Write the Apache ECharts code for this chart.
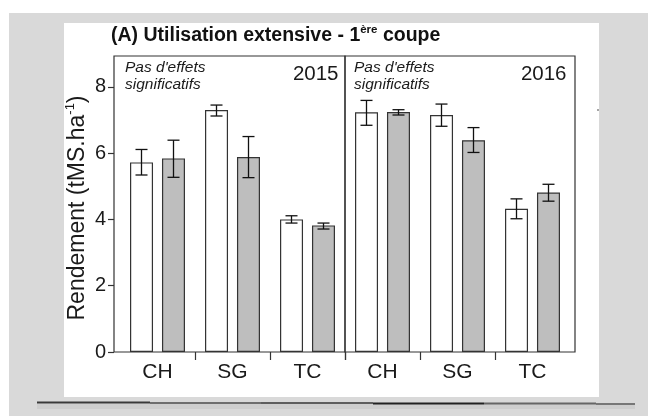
<!DOCTYPE html>
<html><head><meta charset="utf-8">
<script src="https://cdn.jsdelivr.net/npm/echarts@6/dist/echarts.min.js"></script>
<style>html,body{margin:0;padding:0;background:#fff}#c{width:648px;height:416px}</style>
</head><body><div id="c"></div>
<script>
// ---- data ----
const categories = ['CH', 'SG', 'TC'];
const yTicks = [0, 2, 4, 6, 8];
const yMax = 8.93;
// 2015
const white2015 = [5.72, 7.30, 4.00];
const white2015Low = [5.34, 7.12, 3.89];
const white2015High = [6.11, 7.45, 4.11];
const grey2015 = [5.84, 5.88, 3.82];
const grey2015Low = [5.27, 5.26, 3.71];
const grey2015High = [6.39, 6.50, 3.89];
// 2016
const white2016 = [7.23, 7.15, 4.32];
const white2016Low = [6.84, 6.81, 4.02];
const white2016High = [7.59, 7.48, 4.62];
const grey2016 = [7.24, 6.39, 4.81];
const grey2016Low = [7.15, 6.02, 4.55];
const grey2016High = [7.31, 6.77, 5.06];

const F = '"Liberation Sans", Arial, Helvetica, sans-serif';
const INK = '#1a1a1a';
const BORDER = '#333';

const chart = echarts.init(document.getElementById('c'), null, {renderer: 'canvas'});

function barSeries(axisIdx, values, color) {
  return {
    type: 'bar', xAxisIndex: axisIdx, yAxisIndex: axisIdx,
    data: categories.map((c, i) => [c, values[i]]),
    barWidth: 23, barGap: '39%',
    itemStyle: {color: color, borderColor: BORDER, borderWidth: 1.2},
    z: 2, silent: true
  };
}
function errSeries(axisIdx, low, high, side) {
  return {
    type: 'custom', xAxisIndex: axisIdx, yAxisIndex: axisIdx, z: 4, silent: true,
    data: categories.map((c, i) => [c, low[i], high[i]]),
    encode: {x: 0, y: [1, 2]},
    renderItem: function (params, api) {
      const x = api.value(0);
      const lo = api.coord([x, api.value(1)]);
      const hi = api.coord([x, api.value(2)]);
      const cx = lo[0] + side * 16;
      const cap = 6;
      const st = {stroke: '#111', lineWidth: 1.3};
      return {type: 'group', children: [
        {type: 'line', shape: {x1: cx, y1: lo[1], x2: cx, y2: hi[1]}, style: st},
        {type: 'line', shape: {x1: cx - cap, y1: lo[1], x2: cx + cap, y2: lo[1]}, style: st},
        {type: 'line', shape: {x1: cx - cap, y1: hi[1], x2: cx + cap, y2: hi[1]}, style: st}
      ]};
    }
  };
}

const catAxisCommon = {
  type: 'category',
  axisLine: {show: false},
  axisTick: {show: true, interval: (i) => i >= 1, length: 8, lineStyle: {color: BORDER, width: 1.2}},
  axisLabel: {interval: 0, fontSize: 21, fontFamily: F, color: INK, margin: 10},
  splitLine: {show: false}
};
const hiddenY = (g) => ({type: 'value', gridIndex: g, min: 0, max: yMax, show: false});

const option = {
  animation: false,
  backgroundColor: '#ffffff',
  grid: [
    {left: 114, top: 56, width: 231, height: 296, show: true, borderColor: BORDER, borderWidth: 1.2, backgroundColor: 'transparent'},
    {left: 345, top: 56, width: 230, height: 296, show: true, borderColor: BORDER, borderWidth: 1.2, backgroundColor: 'transparent'},
    {left: 120, top: 56, width: 225, height: 296},
    {left: 345, top: 56, width: 225, height: 296}
  ],
  xAxis: [
    {type: 'value', gridIndex: 0, min: 0, max: 1, show: false},
    {type: 'value', gridIndex: 1, min: 0, max: 1, show: false},
    Object.assign({}, catAxisCommon, {gridIndex: 2, data: categories.slice()}),
    Object.assign({}, catAxisCommon, {gridIndex: 3, inverse: true, data: categories.slice().reverse()})
  ],
  yAxis: [
    {
      type: 'value', gridIndex: 0, min: 0, max: yMax,
      axisLine: {show: false},
      axisTick: {show: true, length: 6, customValues: yTicks, lineStyle: {color: BORDER, width: 1.2}},
      axisLabel: {customValues: yTicks, fontSize: 20, fontFamily: F, color: INK, margin: 8},
      splitLine: {show: false}
    },
    hiddenY(1), hiddenY(2), hiddenY(3)
  ],
  series: [
    barSeries(2, white2015, '#ffffff'),
    barSeries(2, grey2015, '#bebebe'),
    errSeries(2, white2015Low, white2015High, -1),
    errSeries(2, grey2015Low, grey2015High, 1),
    barSeries(3, white2016, '#ffffff'),
    barSeries(3, grey2016, '#bebebe'),
    errSeries(3, white2016Low, white2016High, -1),
    errSeries(3, grey2016Low, grey2016High, 1)
  ],
  graphic: [
    // page backgrounds
    {type: 'rect', z: -20, silent: true, shape: {x: 9, y: 13, width: 639, height: 403}, style: {fill: '#d9d9d9'}},
    {type: 'rect', z: -19, silent: true, shape: {x: 64, y: 23, width: 535, height: 374}, style: {fill: '#ffffff'}},
    {type: 'rect', z: -19, silent: true, shape: {x: 37, y: 404, width: 598, height: 5}, style: {fill: '#cecece'}},
    {type: 'line', z: -18, silent: true, shape: {x1: 37, y1: 402.5, x2: 150, y2: 402.5}, style: {stroke: '#3a3a3a', lineWidth: 2}},
    {type: 'line', z: -18, silent: true, shape: {x1: 150, y1: 403, x2: 261, y2: 403}, style: {stroke: '#6e6e6e', lineWidth: 2}},
    {type: 'line', z: -18, silent: true, shape: {x1: 261, y1: 403, x2: 373, y2: 403}, style: {stroke: '#5e5e5e', lineWidth: 2}},
    {type: 'line', z: -18, silent: true, shape: {x1: 373, y1: 403.5, x2: 484, y2: 403.5}, style: {stroke: '#222222', lineWidth: 2}},
    {type: 'line', z: -18, silent: true, shape: {x1: 484, y1: 403.5, x2: 596, y2: 403.5}, style: {stroke: '#666666', lineWidth: 2}},
    {type: 'line', z: -18, silent: true, shape: {x1: 596, y1: 404, x2: 635, y2: 404}, style: {stroke: '#777777', lineWidth: 2}},
    {type: 'circle', z: -18, silent: true, shape: {cx: 598, cy: 110, r: 0.8}, style: {fill: '#333'}},
    // title
    {type: 'text', z: 10, silent: true, x: 111, y: 24, style: {
      text: '{b|(A) Utilisation extensive - 1}{s|ère}{b| coupe}',
      rich: {
        b: {fontSize: 19.5, fontWeight: 'bold', fontFamily: F, fill: '#111', lineHeight: 24},
        s: {fontSize: 11.5, fontWeight: 'bold', fontFamily: F, fill: '#111', verticalAlign: 'top', lineHeight: 24}
      }
    }},
    // y axis name
    {type: 'text', z: 10, silent: true, x: 78, y: 208, rotation: Math.PI / 2, style: {
      text: '{a|Rendement (tMS.ha}{s|-1}{a|)}', align: 'center', verticalAlign: 'middle',
      rich: {
        a: {fontSize: 23, fontFamily: F, fill: INK, lineHeight: 28},
        s: {fontSize: 13, fontFamily: F, fill: INK, verticalAlign: 'top', lineHeight: 28}
      }
    }},
    // panel annotations
    {type: 'text', z: 10, silent: true, x: 125, y: 59, style: {text: "Pas d'effets\nsignificatifs", fontSize: 15.5, fontStyle: 'italic', fontFamily: F, fill: INK, lineHeight: 17}},
    {type: 'text', z: 10, silent: true, x: 354, y: 59, style: {text: "Pas d'effets\nsignificatifs", fontSize: 15.5, fontStyle: 'italic', fontFamily: F, fill: INK, lineHeight: 17}},
    {type: 'text', z: 10, silent: true, x: 338.5, y: 74.5, style: {text: '2015', fontSize: 20.5, fontFamily: F, fill: INK, align: 'right', verticalAlign: 'middle'}},
    {type: 'text', z: 10, silent: true, x: 566.5, y: 74.5, style: {text: '2016', fontSize: 20.5, fontFamily: F, fill: INK, align: 'right', verticalAlign: 'middle'}}
  ]
};
chart.setOption(option);
</script>
</body></html>
